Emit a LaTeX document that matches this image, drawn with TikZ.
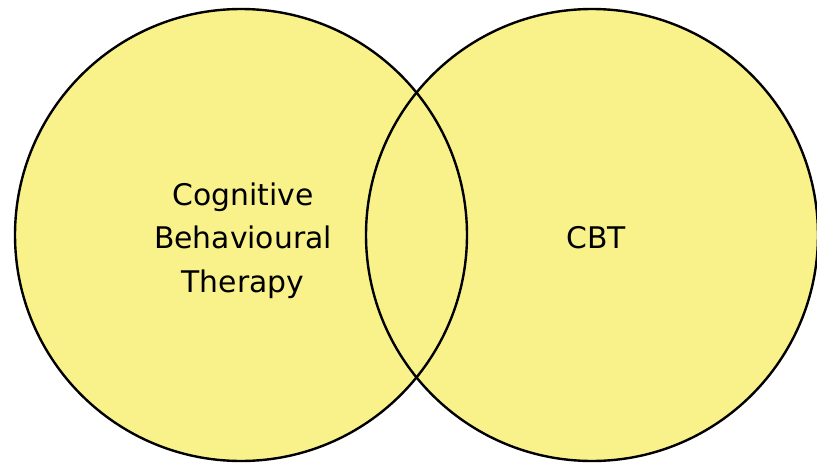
\documentclass[tikz,border=0pt]{standalone}
\usepackage{fontspec}
\setmainfont{DejaVu Sans}
\definecolor{vennyellow}{RGB}{249,242,138}
\begin{document}
\begin{tikzpicture}[x=1pt,y=-1pt,
  vennfill/.style={circle, fill=vennyellow, draw=none, minimum size=452pt, inner sep=0pt},
  label/.style={font=\fontsize{29.8}{43.5}\selectfont, text=black, align=center, inner sep=0pt}]
\useasboundingbox (0,0) rectangle (817,466);
\node[vennfill] (L) at (241,235) {};
\node[vennfill] (R) at (592,235) {};
\draw[line width=2.4pt] (L.center) circle[radius=226pt];
\draw[line width=2.4pt] (R.center) circle[radius=226pt];
\node[label, anchor=base] (t1) at (243,292) {Cognitive\\Behavioural\\Therapy};
\node[label, anchor=base] (t2) at (596,248) {CBT};
\end{tikzpicture}
\end{document}
